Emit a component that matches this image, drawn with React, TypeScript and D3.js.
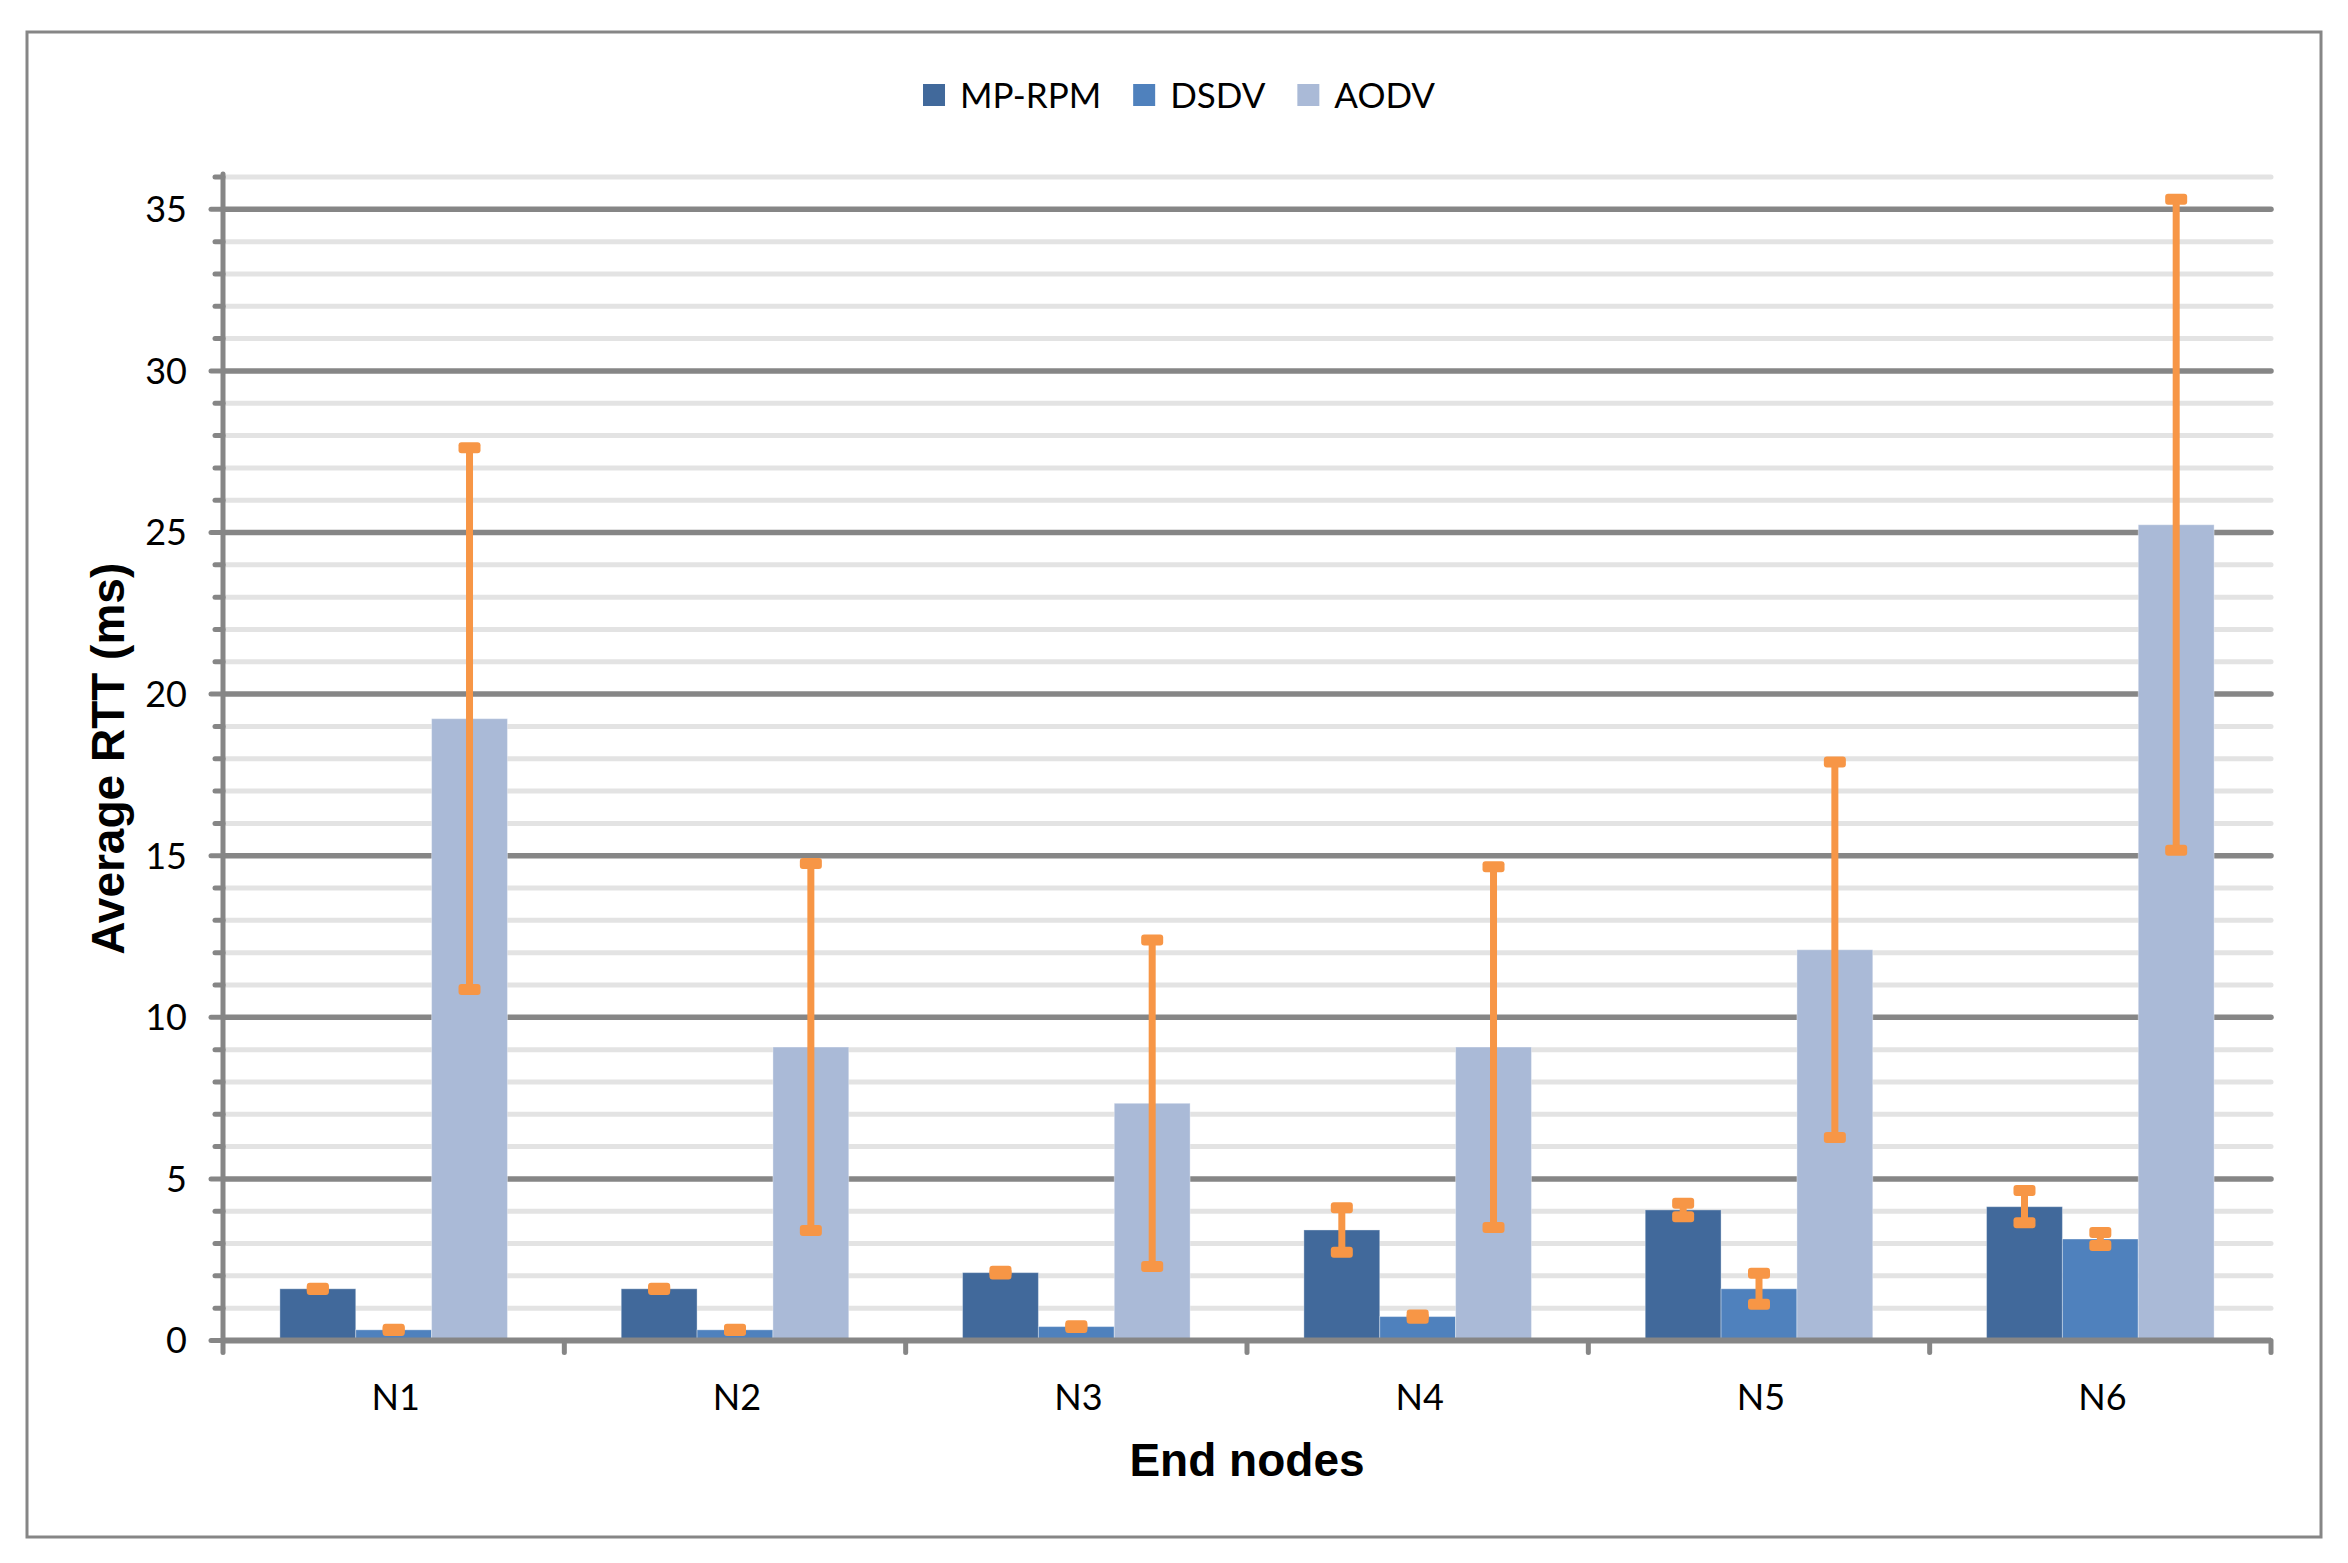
import { useEffect, useRef } from 'react'
import * as d3 from 'd3'

const categories = ['N1', 'N2', 'N3', 'N4', 'N5', 'N6']
const seriesNames = ['MP-RPM', 'DSDV', 'AODV']
const mpRpm = [1.6, 1.6, 2.1, 3.42, 4.04, 4.14]
const mpRpmErr = [0.02, 0.02, 0.04, 0.69, 0.21, 0.5]
const dsdv = [0.33, 0.33, 0.43, 0.74, 1.6, 3.14]
const dsdvErr = [0.02, 0.02, 0.03, 0.05, 0.48, 0.2]
const aodv = [19.24, 9.08, 7.34, 9.08, 12.09, 25.24]
const aodvErr = [8.38, 5.68, 5.05, 5.58, 5.81, 10.07]
const yTicks = [0, 5, 10, 15, 20, 25, 30, 35]
const yMax = 36
const colors = ['#41699B', '#4F81BD', '#AABAD7']

const W = 2348
const H = 1563

export default function App() {
  const svgRef = useRef<SVGSVGElement>(null)

  useEffect(() => {
    if (!svgRef.current) return
    const svg = d3.select(svgRef.current)
    svg.selectAll('*').remove()

    const left = 223
    const right = 2271
    const bottom = 1340.5
    const top = 177
    const grey = '#868686'
    const labelFont = 'Lato, "Open Sans", sans-serif'
    const titleFont = '"Liberation Sans", Arial, sans-serif'

    const values = [mpRpm, dsdv, aodv]
    const errors = [mpRpmErr, dsdvErr, aodvErr]

    const y = d3.scaleLinear().domain([0, yMax]).range([bottom, top])
    const x0 = d3.scaleBand().domain(categories).range([left, right]).padding(0)
    const x1 = d3.scaleBand()
      .domain(seriesNames)
      .range([0, x0.bandwidth()])
      .paddingInner(0)
      .paddingOuter(0.75)

    // outer frame
    svg.append('rect')
      .attr('x', 27).attr('y', 32)
      .attr('width', 2321 - 27).attr('height', 1537 - 32)
      .attr('fill', '#fff')
      .attr('stroke', grey)
      .attr('stroke-width', 3)

    const minor = d3.range(0, yMax + 1).filter(v => v % 5 !== 0)

    // minor gridlines
    svg.append('g').selectAll('line')
      .data(minor)
      .enter()
      .append('line')
      .attr('x1', left).attr('x2', right)
      .attr('y1', d => y(d)).attr('y2', d => y(d))
      .attr('stroke', '#E3E3E3')
      .attr('stroke-width', 5)
      .attr('stroke-linecap', 'round')

    // major gridlines
    svg.append('g').selectAll('line')
      .data(yTicks.filter(v => v > 0))
      .enter()
      .append('line')
      .attr('x1', left).attr('x2', right)
      .attr('y1', d => y(d)).attr('y2', d => y(d))
      .attr('stroke', grey)
      .attr('stroke-width', 5.5)
      .attr('stroke-linecap', 'round')

    // y tick marks
    svg.append('g').selectAll('line')
      .data(d3.range(0, yMax + 1))
      .enter()
      .append('line')
      .attr('x1', d => left - (d % 5 === 0 ? 12 : 8)).attr('x2', left)
      .attr('y1', d => y(d)).attr('y2', d => y(d))
      .attr('stroke', grey)
      .attr('stroke-width', 5)
      .attr('stroke-linecap', 'round')

    // bars
    seriesNames.forEach((s, si) => {
      svg.append('g').selectAll('rect')
        .data(categories)
        .enter()
        .append('rect')
        .attr('x', (c) => (x0(c) || 0) + (x1(s) || 0))
        .attr('width', x1.bandwidth())
        .attr('y', (c, i) => y(values[si][i]))
        .attr('height', (c, i) => bottom - y(values[si][i]))
        .attr('fill', colors[si])
        .attr('stroke', 'rgba(255,255,255,0.35)')
        .attr('stroke-width', 1)
    })

    // axes
    svg.append('line')
      .attr('x1', left).attr('x2', left)
      .attr('y1', top - 3).attr('y2', bottom)
      .attr('stroke', grey).attr('stroke-width', 5)
      .attr('stroke-linecap', 'round')

    svg.append('line')
      .attr('x1', left).attr('x2', right)
      .attr('y1', bottom).attr('y2', bottom)
      .attr('stroke', grey).attr('stroke-width', 6)

    const bounds = categories.map(c => x0(c) || 0).concat([right])
    svg.append('g').selectAll('line')
      .data(bounds)
      .enter()
      .append('line')
      .attr('x1', d => d).attr('x2', d => d)
      .attr('y1', bottom).attr('y2', bottom + 12)
      .attr('stroke', grey).attr('stroke-width', 5)
      .attr('stroke-linecap', 'round')

    // error bars
    const orange = '#F79646'
    seriesNames.forEach((s, si) => {
      const g = svg.append('g')
      categories.forEach((c, i) => {
        const cx = (x0(c) || 0) + (x1(s) || 0) + x1.bandwidth() / 2
        const v = values[si][i]
        const e = errors[si][i]
        g.append('line')
          .attr('x1', cx).attr('x2', cx)
          .attr('y1', y(v - e)).attr('y2', y(v + e))
          .attr('stroke', orange).attr('stroke-width', 7)
        ;[v - e, v + e].forEach(end => {
          g.append('rect')
            .attr('x', cx - 11).attr('y', y(end) - 5.5)
            .attr('width', 22).attr('height', 11)
            .attr('rx', 3)
            .attr('fill', orange)
        })
      })
    })

    // y tick labels
    svg.append('g').selectAll('text')
      .data(yTicks)
      .enter()
      .append('text')
      .attr('x', 187)
      .attr('y', d => y(d))
      .attr('dy', '0.36em')
      .attr('text-anchor', 'end')
      .style('font-family', labelFont)
      .style('font-size', '36px')
      .style('fill', '#000')
      .text(d => d)

    // x tick labels
    svg.append('g').selectAll('text')
      .data(categories)
      .enter()
      .append('text')
      .attr('x', d => (x0(d) || 0) + x0.bandwidth() / 2 + 2)
      .attr('y', 1410)
      .attr('text-anchor', 'middle')
      .style('font-family', labelFont)
      .style('font-size', '36px')
      .style('fill', '#000')
      .text(d => d)

    // axis titles
    svg.append('text')
      .attr('x', (left + right) / 2)
      .attr('y', 1476)
      .attr('text-anchor', 'middle')
      .style('font-family', titleFont)
      .style('font-weight', 'bold')
      .style('font-size', '46px')
      .text('End nodes')

    svg.append('text')
      .attr('transform', `translate(124, ${(top + bottom) / 2}) rotate(-90)`)
      .attr('text-anchor', 'middle')
      .style('font-family', titleFont)
      .style('font-weight', 'bold')
      .style('font-size', '46px')
      .text('Average RTT (ms)')

    // legend
    const canvas = document.createElement('canvas')
    const ctx = canvas.getContext('2d')
    const fontSize = 35
    if (ctx) ctx.font = `${fontSize}px Lato`
    const sq = 22
    const gapText = 15
    const gapItem = 32
    const widths = seriesNames.map(s => (ctx ? ctx.measureText(s).width : s.length * 20))
    const total = d3.sum(widths) + seriesNames.length * (sq + gapText) + (seriesNames.length - 1) * gapItem
    let lx = 1179 - total / 2
    const ly = 95
    const legend = svg.append('g')
    seriesNames.forEach((s, i) => {
      legend.append('rect')
        .attr('x', lx).attr('y', ly - sq / 2)
        .attr('width', sq).attr('height', sq)
        .attr('fill', colors[i])
      legend.append('text')
        .attr('x', lx + sq + gapText)
        .attr('y', ly)
        .attr('dy', '0.36em')
        .style('font-family', labelFont)
        .style('font-size', `${fontSize}px`)
        .text(s)
      lx += sq + gapText + widths[i] + gapItem
    })
  }, [])

  return (
    <div style={{ position: 'absolute', left: 0, top: 0, background: '#fff' }}>
      <svg ref={svgRef} width={W} height={H} style={{ display: 'block' }} />
    </div>
  )
}
